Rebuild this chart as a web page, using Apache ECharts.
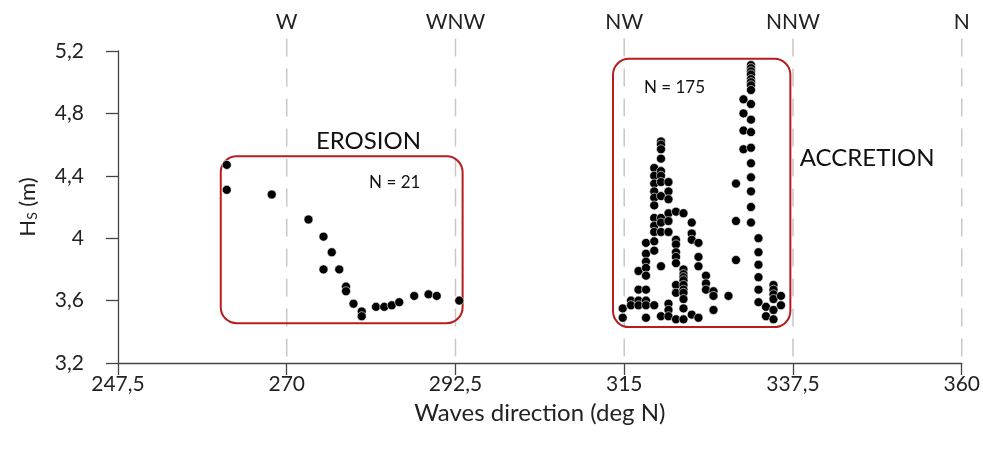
<!DOCTYPE html>
<html>
<head>
<meta charset="utf-8">
<script src="https://cdn.jsdelivr.net/npm/echarts@6/dist/echarts.min.js"></script>
<style>
html,body{margin:0;padding:0;background:#fff;}
#chart{width:983px;height:458px;}
</style>
</head>
<body>
<div id="chart"></div>
<script>
// ---- Data ----
var xTicks = [247.5, 270, 292.5, 315, 337.5, 360];
var yTicks = [3.2, 3.6, 4.0, 4.4, 4.8, 5.2];
var compassDir = [270, 292.5, 315, 337.5, 360];
var compassLabels = ['W', 'WNW', 'NW', 'NNW', 'N'];
var guideTop = 5.28;

var erosionDir = [262.0, 262.0, 268.0, 272.9, 274.9, 276.0, 274.9, 277.0, 277.9, 277.9, 278.9, 280.0, 280.0, 281.9, 283.0, 284.0, 285.0, 287.0, 288.9, 290.0, 293.0];
var erosionHs  = [4.47, 4.31, 4.28, 4.12, 4.01, 3.91, 3.80, 3.80, 3.69, 3.66, 3.58, 3.53, 3.50, 3.56, 3.56, 3.57, 3.59, 3.63, 3.64, 3.63, 3.60];

var accColDir = [314.8, 315.9, 316.9, 317.9, 319.0, 319.9, 320.9, 321.9, 322.9, 324.0, 324.9, 325.9, 326.9, 328.9, 329.9, 330.9, 331.9, 332.9, 333.9, 334.9, 335.9];
var accColHs = [
  [3.55, 3.49],
  [3.60, 3.57],
  [3.79, 3.67, 3.60, 3.57],
  [3.97, 3.90, 3.85, 3.81, 3.76, 3.67, 3.60, 3.57, 3.49],
  [4.45, 4.40, 4.35, 4.30, 4.26, 4.21, 4.13, 4.08, 4.04, 3.98, 3.92, 3.57],
  [4.62, 4.60, 4.57, 4.51, 4.43, 4.40, 4.36, 4.27, 4.13, 4.10, 4.04, 3.82, 3.50],
  [4.36, 4.30, 4.25, 4.16, 4.11, 4.04, 3.58, 3.54, 3.50],
  [4.17, 3.99, 3.96, 3.91, 3.88, 3.84, 3.70, 3.65, 3.48],
  [4.16, 3.80, 3.77, 3.75, 3.73, 3.70, 3.67, 3.65, 3.61, 3.55, 3.48],
  [4.10, 4.03, 3.99, 3.51],
  [3.97, 3.88, 3.82, 3.49],
  [3.76, 3.71, 3.67],
  [3.66, 3.63, 3.54],
  [3.63],
  [4.35, 4.11, 3.86],
  [4.89, 4.80, 4.69, 4.57],
  [5.11, 5.09, 5.07, 5.05, 5.02, 5.00, 4.98, 4.95, 4.86, 4.76, 4.68, 4.58, 4.48, 4.39, 4.30, 4.20, 4.10],
  [4.00, 3.91, 3.83, 3.75, 3.67, 3.59],
  [3.56, 3.50],
  [3.70, 3.67, 3.64, 3.61, 3.54, 3.48],
  [3.63, 3.57]
];

// annotation boxes in data units: [dirMin, dirMax, hsMin, hsMax]
var boxErosion = [261.2, 293.45, 3.455, 4.525];
var boxAccretion = [313.5, 337.15, 3.43, 5.15];

var labelTexts = ['EROSION', 'N = 21', 'N = 175', 'ACCRETION'];
var labelDir = [280.9, 284.4, 321.7, 347.4];
var labelHs  = [4.62, 4.354, 4.963, 4.51];

// ---- Build ----
var erosionData = erosionDir.map(function (d, i) { return [d, erosionHs[i]]; });
var accretionData = [];
accColDir.forEach(function (d, i) {
  accColHs[i].forEach(function (h) { accretionData.push([d, h]); });
});
var boxes = [boxErosion, boxAccretion];
var labelData = labelTexts.map(function (t, i) { return [labelDir[i], labelHs[i], i]; });
var guideData = compassDir.map(function (d) { return [d, 3.2, guideTop]; });

var FONT = 'Lato';
function comma(v) { return String(+v.toFixed(1)).replace('.', ','); }

var chart = echarts.init(document.getElementById('chart'));
chart.setOption({
  animation: false,
  backgroundColor: '#fff',
  textStyle: { fontFamily: FONT },
  grid: { left: 118, right: 18, top: 51, bottom: 95 },
  xAxis: [{
    type: 'value', min: 247.5, max: 360, interval: 22.5,
    name: 'Waves direction (deg N)', nameLocation: 'middle', nameGap: 38,
    nameTextStyle: { fontFamily: FONT, fontSize: 24, color: '#222' },
    axisLine: { show: true, lineStyle: { color: '#444', width: 1.3 } },
    axisTick: { show: true, inside: false, length: 12, lineStyle: { color: '#444', width: 1.3 } },
    axisLabel: { fontFamily: FONT, fontSize: 21, color: '#222', margin: 11,
      formatter: function (v) { return comma(v); } },
    splitLine: { show: false }
  }, {
    type: 'value', position: 'top', min: 247.5, max: 360, interval: 22.5,
    axisLine: { show: false }, axisTick: { show: false }, splitLine: { show: false },
    axisLabel: { fontFamily: FONT, fontSize: 21, color: '#222', margin: 18,
      formatter: function (v) {
        for (var i = 0; i < compassDir.length; i++) {
          if (Math.abs(compassDir[i] - v) < 1e-6) return compassLabels[i];
        }
        return '';
      } }
  }],
  yAxis: {
    type: 'value', min: 3.2, max: 5.2, interval: 0.4,
    name: '{h|H}{s|S}{m| (m)}', nameLocation: 'middle', nameGap: 79, nameRotate: 90,
    nameTextStyle: { fontFamily: FONT, color: '#222',
      rich: { h: { fontSize: 22, fontFamily: FONT, color: '#222' },
              s: { fontSize: 14, fontFamily: FONT, color: '#222', verticalAlign: 'bottom', padding: [9, 0, 0, 0] },
              m: { fontSize: 22, fontFamily: FONT, color: '#222' } } },
    axisLine: { show: true, lineStyle: { color: '#444', width: 1.3 } },
    axisTick: { show: true, inside: false, length: 12, lineStyle: { color: '#444', width: 1.3 } },
    axisLabel: { fontFamily: FONT, fontSize: 21, color: '#222', margin: 34,
      formatter: function (v) { return comma(v); } },
    splitLine: { show: false }
  },
  series: [{
    type: 'custom', name: 'guides', silent: true, z: 0, clip: false,
    data: guideData,
    renderItem: function (params, api) {
      var p1 = api.coord([api.value(0), api.value(2)]);
      var p2 = api.coord([api.value(0), api.value(1)]);
      return {
        type: 'line',
        shape: { x1: p1[0], y1: p1[1], x2: p2[0], y2: p2[1] },
        style: { stroke: '#c8c8c8', lineWidth: 1.5, lineDash: [18, 12] }
      };
    }
  }, {
    type: 'custom', name: 'boxes', silent: true, z: 1,
    data: boxes,
    renderItem: function (params, api) {
      var p1 = api.coord([api.value(0), api.value(3)]);
      var p2 = api.coord([api.value(1), api.value(2)]);
      return {
        type: 'rect',
        shape: { x: p1[0], y: p1[1], width: p2[0] - p1[0], height: p2[1] - p1[1], r: 16 },
        style: { fill: 'none', stroke: '#b81d1d', lineWidth: 2 }
      };
    }
  }, {
    type: 'scatter', name: 'Erosion', data: erosionData, symbol: 'circle', symbolSize: 9, z: 3,
    itemStyle: { color: '#000', borderColor: '#fff', borderWidth: 0.6, opacity: 1 }
  }, {
    type: 'scatter', name: 'Accretion', data: accretionData, symbol: 'circle', symbolSize: 9, z: 3,
    itemStyle: { color: '#000', borderColor: '#fff', borderWidth: 0.6, opacity: 1 }
  }, {
    type: 'custom', name: 'labels', silent: true, z: 4,
    data: labelData,
    renderItem: function (params, api) {
      var p = api.coord([api.value(0), api.value(1)]);
      var idx = api.value(2);
      var big = (idx === 0 || idx === 3);
      return {
        type: 'text',
        x: p[0], y: p[1],
        style: { text: labelTexts[idx], fontFamily: FONT, fontSize: big ? 24 : 17,
          fill: '#111', align: 'center', verticalAlign: 'middle' }
      };
    }
  }]
});
</script>
</body>
</html>
